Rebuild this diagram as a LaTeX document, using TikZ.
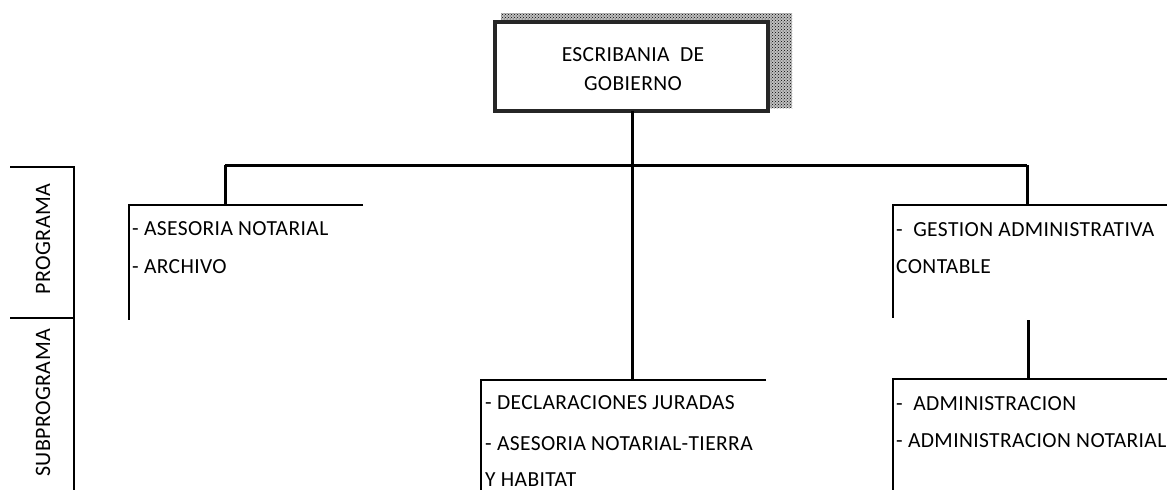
\documentclass[tikz,border=0pt]{standalone}
\usepackage{fontspec}
\setmainfont{Carlito}[LetterSpace=1.8]
\usetikzlibrary{patterns}
\begin{document}
\begin{tikzpicture}[x=1pt,y=-1pt,
  conn/.style={line width=3pt, black},
  rule/.style={line width=2.6pt, black},
  txt/.style={anchor=base west, inner sep=0pt, font=\fontsize{21.5}{25}\selectfont},
  ctxt/.style={anchor=base, inner sep=0pt, font=\fontsize{21.5}{25}\selectfont},
  vtxt/.style={anchor=base, inner sep=0pt, rotate=90, font=\fontsize{22}{25}\selectfont},
  shadowbox/.style={pattern=crosshatch dots, pattern color=black},
  mainbox/.style={draw=black!85, line width=3.5pt, fill=white}]
\useasboundingbox (0,0) rectangle (1167,490);
% main box with shadow
\fill[black!25] (501,13) rectangle (792,108);
\fill[shadowbox] (501,13) rectangle (792,108);
\draw[mainbox] (495,22) rectangle (768,111);
\coordinate (main) at (632,111);
\node[ctxt] (t1) at (633,61) {ESCRIBANIA\ \ DE};
\node[ctxt] (t2) at (633,90) {GOBIERNO};
% junctions
\coordinate (jm) at (632,165);
\coordinate (jl) at (225,165);
\coordinate (jr) at (1027,165);
\coordinate (lb) at (225,205);
\coordinate (rb) at (1027,205);
\coordinate (mb) at (632,380);
\coordinate (rs) at (1028,320);
\coordinate (rbb) at (1028,379);
\draw[conn] (main) -- (mb);
\draw[conn] (jl) -- (jr);
\draw[conn] (lb) -- (jl);
\draw[conn] (jr) -- (rb);
\draw[conn] (rs) -- (rbb);
% open boxes
\draw[rule] (363,205) -- (129,205) -- (129,320);
\draw[rule] (1167,205) -- (893,205) -- (893,318);
\draw[rule] (766,380) -- (481,380) -- (481,490);
\draw[rule] (1167,379) -- (893,379) -- (893,490);
% side labels
\draw[rule] (10,167) -- (74,167) -- (74,490);
\draw[rule] (10,318) -- (74,318);
\node[vtxt] (p) at (50,239) {PROGRAMA};
\node[vtxt] (s) at (50,403) {SUBPROGRAMA};
% texts
\node[txt] (a1) at (132,235) {- ASESORIA NOTARIAL};
\node[txt] (a2) at (132,273) {- ARCHIVO};
\node[txt] (g1) at (896,236) {-\ \ GESTION ADMINISTRATIVA};
\node[txt] (g2) at (896,273) {CONTABLE};
\node[txt] (d1) at (485,409) {- DECLARACIONES JURADAS};
\node[txt] (d2) at (485,450) {- ASESORIA NOTARIAL-TIERRA};
\node[txt] (d3) at (485,486) {Y HABITAT};
\node[txt] (r1) at (896,410) {-\ \ ADMINISTRACION};
\node[txt] (r2) at (896,447) {- ADMINISTRACION NOTARIAL};
\end{tikzpicture}
\end{document}
